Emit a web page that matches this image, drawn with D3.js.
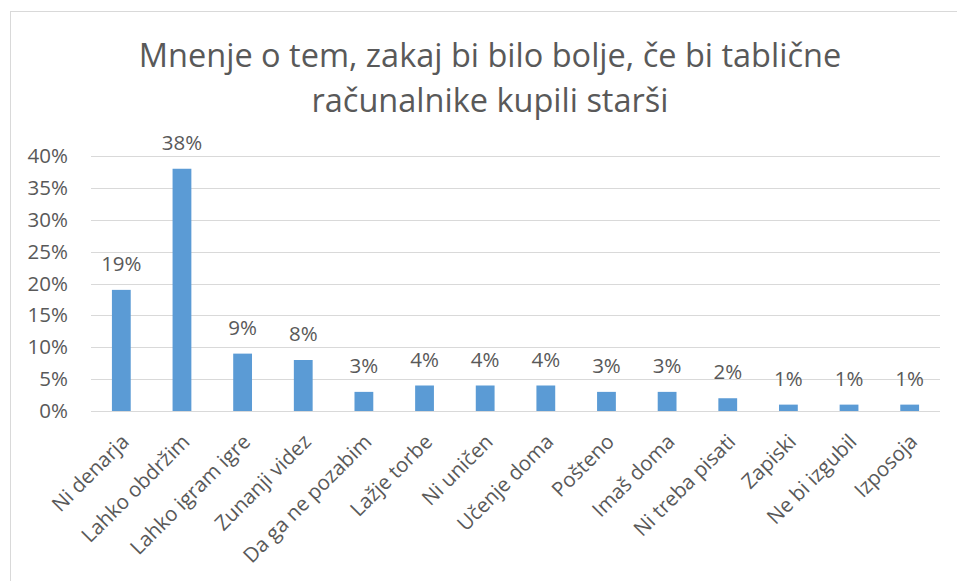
<!DOCTYPE html>
<html>
<head>
<meta charset="utf-8">
<script src="https://cdn.jsdelivr.net/npm/d3@7"></script>
<style>
  body { margin: 0; background: #fff; }
  text { font-family: "Open Sans", "Noto Sans", sans-serif; fill: #595959; }
</style>
</head>
<body>
<div id="chart"></div>
<script>
const categories = ["Ni denarja", "Lahko obdržim", "Lahko igram igre", "Zunanji videz", "Da ga ne pozabim",
  "Lažje torbe", "Ni uničen", "Učenje doma", "Pošteno", "Imaš doma", "Ni treba pisati",
  "Zapiski", "Ne bi izgubil", "Izposoja"];
const values = [0.19, 0.38, 0.09, 0.08, 0.03, 0.04, 0.04, 0.04, 0.03, 0.03, 0.02, 0.01, 0.01, 0.01];
const yTicks = [0, 0.05, 0.10, 0.15, 0.20, 0.25, 0.30, 0.35, 0.40];
const titleLines = ["Mnenje o tem, zakaj bi bilo bolje, če bi tablične", "računalnike kupili starši"];

const width = 957, height = 581;
const margin = { top: 156, right: 17, bottom: 170, left: 91 };
const innerW = width - margin.left - margin.right;
const innerH = height - margin.top - margin.bottom;
const fs = "20.5px";

const svg = d3.select("#chart").append("svg").attr("width", width).attr("height", height);

// chart frame
svg.append("rect").attr("x", 10.5).attr("y", 11.5).attr("width", 960).attr("height", 600)
  .attr("fill", "none").attr("stroke", "#D9D9D9");

// title
const title = svg.append("text").attr("text-anchor", "middle").style("font-size", "32.5px");
titleLines.forEach((t, i) => {
  title.append("tspan").attr("x", 490).attr("y", 67 + i * 45).text(t);
});

const g = svg.append("g").attr("transform", `translate(${margin.left},${margin.top})`);

const x = d3.scaleBand().domain(categories).range([0, innerW]).paddingInner(0.69).paddingOuter(0.345);
const y = d3.scaleLinear().domain([0, 0.4]).range([innerH, 0]);

// gridlines
g.append("g").selectAll("line").data(yTicks).join("line")
  .attr("x1", 0).attr("x2", innerW)
  .attr("y1", d => Math.round(y(d)) + 0.5).attr("y2", d => Math.round(y(d)) + 0.5)
  .attr("stroke", "#D9D9D9").attr("stroke-width", 1);

// y axis labels
const yAxis = g.append("g").call(d3.axisLeft(y).tickValues(yTicks).tickFormat(d3.format(".0%")).tickSize(0).tickPadding(23));
yAxis.select(".domain").remove();
yAxis.selectAll("text").style("font-size", fs).style("font-family", null).attr("fill", null);

// bars
g.selectAll(".bar").data(values).join("rect")
  .attr("class", "bar")
  .attr("x", (d, i) => x(categories[i]))
  .attr("y", d => y(d))
  .attr("width", x.bandwidth())
  .attr("height", d => innerH - y(d))
  .attr("fill", "#5B9BD5");

// data labels
g.selectAll(".lbl").data(values).join("text")
  .attr("class", "lbl")
  .attr("text-anchor", "middle")
  .attr("x", (d, i) => x(categories[i]) + x.bandwidth() / 2)
  .attr("y", d => y(d) - 19)
  .style("font-size", fs)
  .text(d3.format(".0%"));

// x labels
g.selectAll(".xl").data(categories).join("text")
  .attr("class", "xl")
  .attr("text-anchor", "end")
  .attr("transform", d => `translate(${x(d) + x.bandwidth() / 2 + 9},${innerH + 32}) rotate(-45)`)
  .style("font-size", fs)
  .text(d => d);
</script>
</body>
</html>
